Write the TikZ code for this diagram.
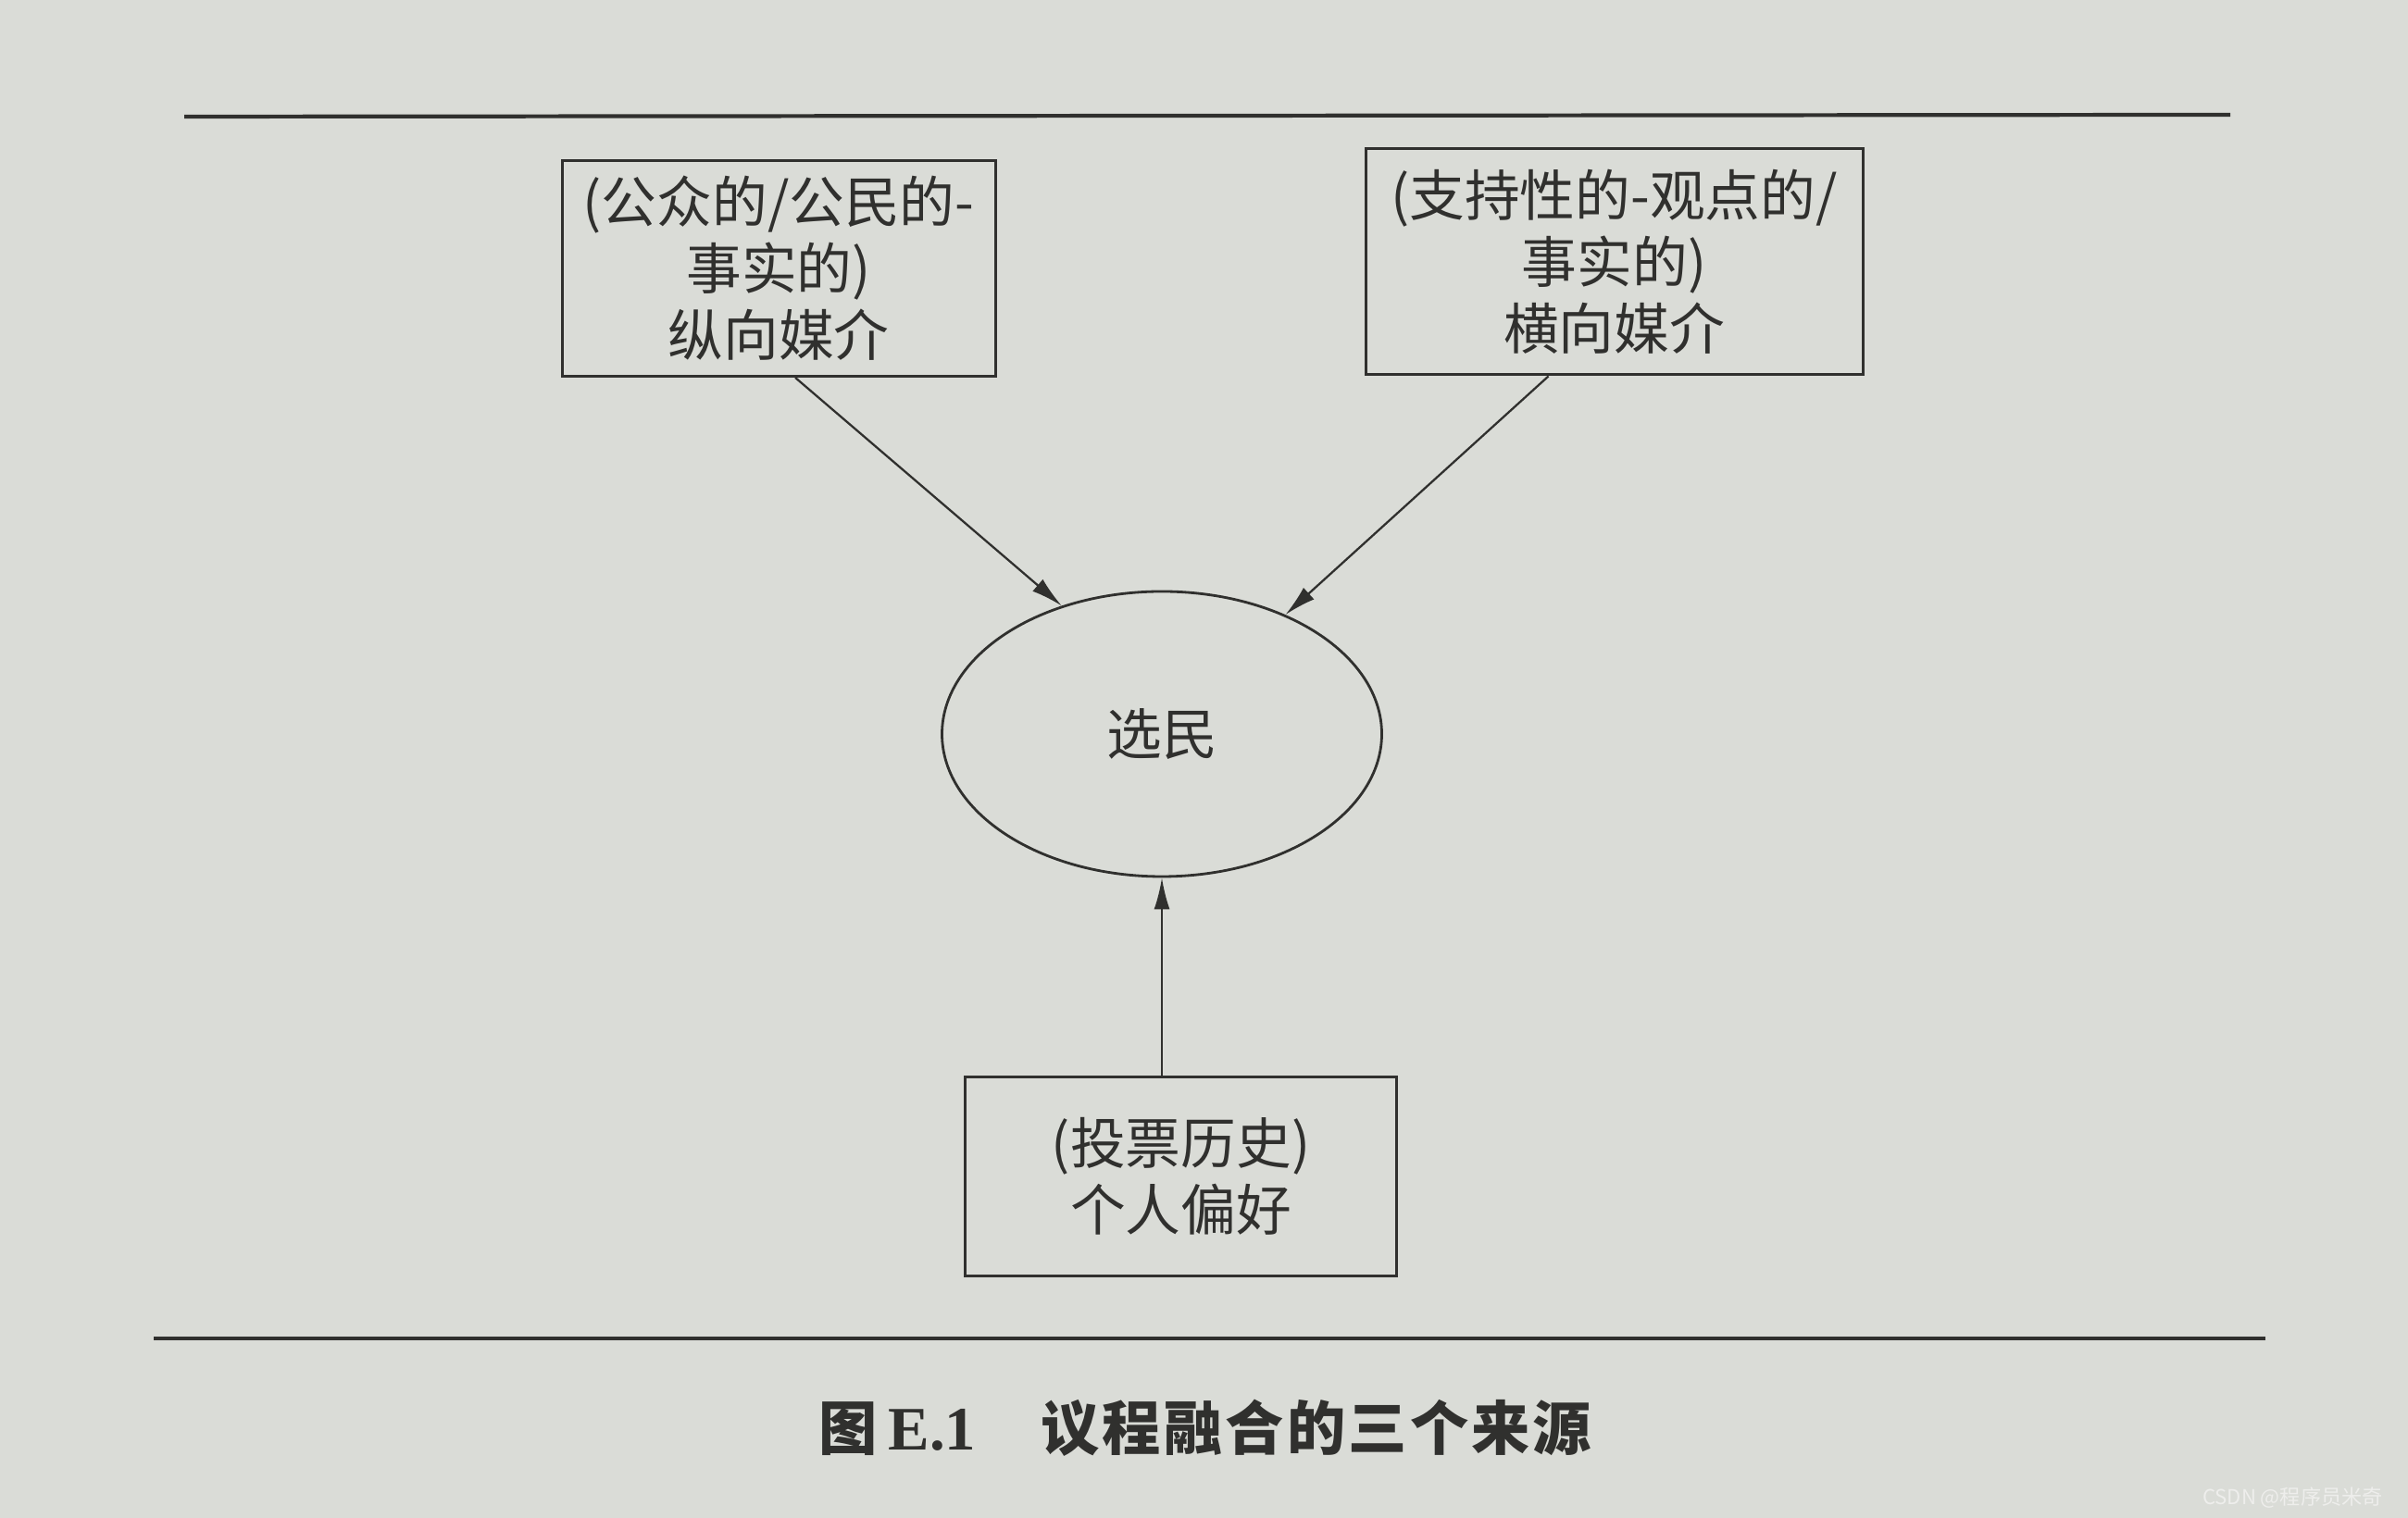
\documentclass[tikz,border=0pt]{standalone}
\usepackage{xcolor}
\usepackage{fontspec}
\usepackage{tikz}
\usetikzlibrary{arrows.meta,positioning,shapes.geometric}
\newfontfamily\cjk{Noto Sans CJK SC}
\newfontfamily\cjkcap[LetterSpace=5]{Noto Sans CJK SC}
\newfontfamily\capnum{Liberation Serif}
\definecolor{paper}{RGB}{218,220,215}
\definecolor{ink}{RGB}{48,48,46}
\definecolor{mark}{RGB}{238,238,236}
\tikzset{
  mediabox/.style={draw=ink, line width=0.85pt, align=center, text=ink,
    font=\cjk\fontsize{17pt}{20.5pt}\selectfont},
  voterellipse/.style={ellipse, draw=ink, line width=0.8pt, text=ink,
    minimum width=47.5mm, minimum height=30.8mm, font=\cjk\fontsize{17pt}{20pt}\selectfont},
  flow/.style={-{Latex[length=3.4mm,width=1.7mm]}, line width=0.65pt, draw=ink},
  pagerule/.style={line width=1.2pt, draw=ink}
}

\begin{document}
\begin{tikzpicture}
\useasboundingbox[fill=paper] (0,0) rectangle (26.01,16.40);
\draw[pagerule] (1.99,15.14) -- (24.09,15.16);
\draw[pagerule] (1.66,1.94) -- (24.47,1.94);

\node[voterellipse] (voter) at (12.55,8.47) {\raisebox{-0.8mm}{选民}};
\node[mediabox, minimum width=46.8mm, minimum height=23.3mm] (vmed) at (8.41,13.50)
  {(公众的/公民的-\\事实的)\\纵向媒介};
\node[mediabox, minimum width=53.7mm, minimum height=24.4mm] (hmed) at (17.435,13.57)
  {(支持性的-观点的/\\事实的)\\横向媒介};
\node[mediabox, minimum width=46.6mm, minimum height=21.5mm] (pref) at (12.755,3.69)
  {(投票历史)\\个人偏好};

\draw[flow] ([xshift=1.8mm]vmed.south) -- (voter.128);
\draw[flow] ([xshift=-7.1mm]hmed.south) -- (voter.44);
\draw[flow] (voter.south |- pref.north) -- (voter.south);

\node[text=ink] (cap) at (13.02,0.97)
  {{\cjk\bfseries\fontsize{18pt}{20pt}\selectfont 图} {\capnum\bfseries\fontsize{19pt}{20pt}\selectfont E.1}\qquad{\cjkcap\bfseries\fontsize{18pt}{20pt}\selectfont 议程融合的三个来源}};
\node[text=mark, font=\cjk\fontsize{6.3pt}{7pt}\selectfont, anchor=east] (wm) at (25.86,0.22)
  {CSDN @程序员米奇};
\end{tikzpicture}
\end{document}
